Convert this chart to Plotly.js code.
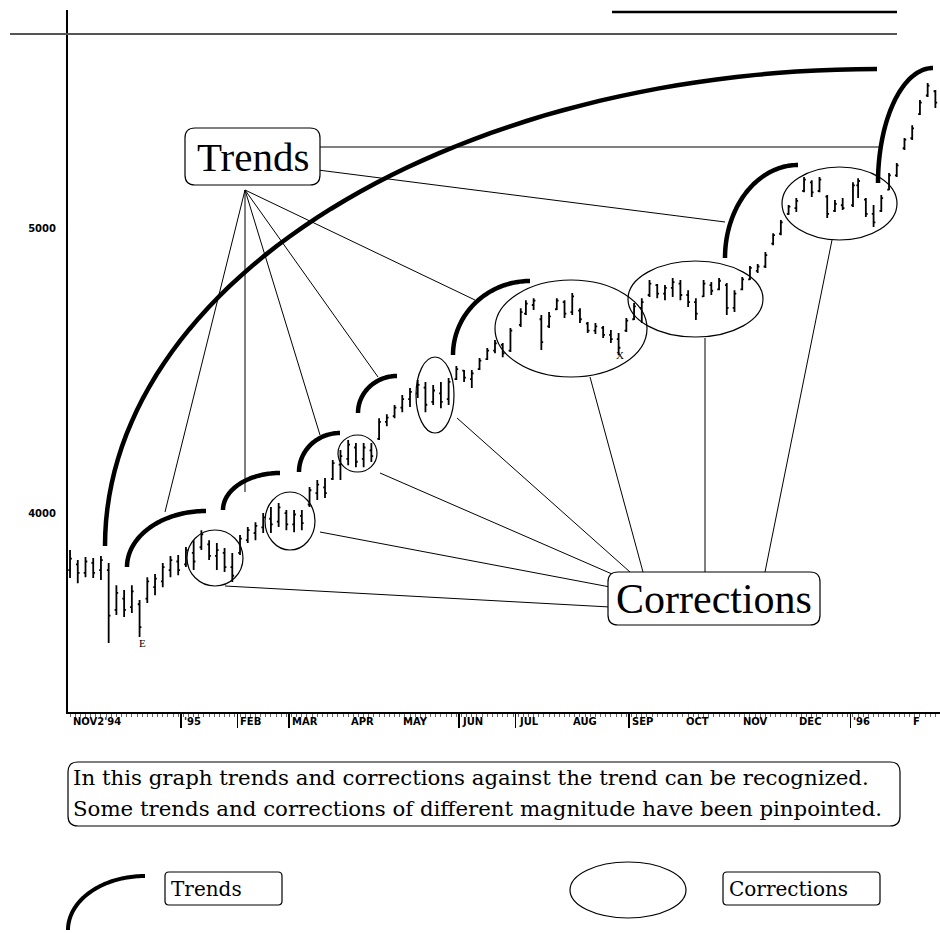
<!DOCTYPE html>
<html><head><meta charset="utf-8">
<script src="https://cdn.plot.ly/plotly-3.0.1.min.js"></script>
<style>html,body{margin:0;padding:0;background:#fff;}#chart{width:940px;height:933px;}</style>
</head><body><div id="chart"></div>
<script>
// ---- data (Dow-like index, bars every 3 trading days) ----
const dates = [
'1994-11-02','1994-11-07','1994-11-10','1994-11-15','1994-11-18','1994-11-23','1994-11-28','1994-12-01','1994-12-06','1994-12-09',
'1994-12-14','1994-12-19','1994-12-22','1994-12-27','1994-12-30','1995-01-04','1995-01-09','1995-01-12','1995-01-17','1995-01-20',
'1995-01-25','1995-01-30','1995-02-02','1995-02-07','1995-02-10','1995-02-15','1995-02-20','1995-02-23','1995-02-28','1995-03-03',
'1995-03-08','1995-03-13','1995-03-16','1995-03-21','1995-03-24','1995-03-29','1995-04-03','1995-04-06','1995-04-11','1995-04-14',
'1995-04-19','1995-04-24','1995-04-27','1995-05-02','1995-05-05','1995-05-10','1995-05-15','1995-05-18','1995-05-23','1995-05-26',
'1995-05-31','1995-06-05','1995-06-08','1995-06-13','1995-06-16','1995-06-21','1995-06-26','1995-06-29','1995-07-05','1995-07-07',
'1995-07-12','1995-07-17','1995-07-20','1995-07-25','1995-07-28','1995-08-02','1995-08-07','1995-08-10','1995-08-15','1995-08-18',
'1995-08-23','1995-08-28','1995-08-31','1995-09-05','1995-09-08','1995-09-13','1995-09-18','1995-09-21','1995-09-26','1995-09-29',
'1995-10-04','1995-10-09','1995-10-12','1995-10-17','1995-10-20','1995-10-25','1995-10-30','1995-11-02','1995-11-07','1995-11-10',
'1995-11-15','1995-11-20','1995-11-23','1995-11-28','1995-12-01','1995-12-06','1995-12-11','1995-12-14','1995-12-19','1995-12-22',
'1995-12-27','1996-01-02','1996-01-04','1996-01-09','1996-01-12','1996-01-17','1996-01-22','1996-01-25','1996-01-30','1996-02-02',
'1996-02-07','1996-02-12','1996-02-15'];
const highV = [
3870,3835,3846,3842,3849,3825,3747,3730,3747,3695,
3775,3786,3825,3849,3853,3881,3905,3940,3905,3895,
3877,3860,3923,3951,3968,4000,4021,4035,4011,4011,
4011,4091,4116,4123,4186,4221,4256,4246,4246,4246,
4333,4347,4379,4414,4439,4467,4460,4449,4460,4474,
4516,4502,4502,4544,4579,4607,4597,4649,4719,4747,
4754,4695,4705,4754,4747,4772,4719,4670,4667,4656,
4642,4632,4684,4737,4754,4818,4804,4800,4825,4818,
4782,4754,4818,4811,4825,4807,4782,4828,4867,4874,
4916,4982,5028,5081,5105,5179,5168,5179,5116,5098,
5105,5161,5175,5105,5081,5116,5193,5228,5316,5361,
5449,5509,5484];
const lowV = [
3772,3754,3775,3772,3765,3544,3642,3635,3649,3565,
3684,3712,3740,3775,3782,3811,3800,3870,3835,3800,
3793,3758,3853,3895,3905,3930,3930,3951,3940,3933,
3940,4021,4046,4053,4116,4116,4168,4161,4161,4179,
4256,4305,4333,4354,4372,4404,4354,4379,4368,4379,
4467,4460,4439,4502,4537,4561,4547,4565,4653,4695,
4712,4572,4649,4712,4684,4695,4667,4632,4628,4614,
4597,4554,4635,4677,4667,4758,4754,4747,4758,4747,
4723,4677,4758,4765,4782,4695,4705,4782,4818,4842,
4860,4940,4975,5046,5056,5126,5109,5126,5035,5056,
5063,5074,5105,5039,5004,5056,5133,5179,5274,5309,
5397,5460,5421];
const openV = [
3800,3820,3790,3825,3800,3800,3660,3700,3670,3680,
3700,3740,3760,3800,3830,3820,3860,3880,3890,3850,
3860,3810,3860,3905,3930,3950,3980,3970,4000,3960,
3990,4030,4070,4090,4120,4170,4190,4230,4190,4220,
4260,4320,4340,4370,4400,4420,4440,4390,4420,4400,
4470,4500,4470,4505,4540,4570,4590,4570,4660,4700,
4730,4680,4655,4715,4740,4705,4710,4665,4640,4650,
4625,4610,4640,4680,4720,4765,4800,4770,4790,4805,
4765,4740,4760,4800,4785,4800,4720,4785,4820,4850,
4865,4945,4980,5050,5070,5130,5160,5130,5110,5060,
5080,5080,5150,5100,5050,5060,5135,5185,5280,5315,
5400,5465,5480];
const closeV = [
3840,3790,3830,3790,3835,3640,3720,3660,3725,3600,
3760,3770,3810,3835,3800,3870,3830,3925,3850,3870,
3810,3780,3910,3940,3955,3985,3960,4020,3960,3995,
3965,4080,4100,4070,4175,4200,4240,4180,4230,4200,
4320,4335,4370,4400,4425,4450,4380,4430,4390,4460,
4505,4475,4490,4535,4570,4595,4560,4640,4705,4735,
4745,4600,4690,4745,4700,4760,4680,4640,4655,4625,
4610,4580,4675,4725,4740,4805,4770,4790,4810,4765,
4740,4700,4805,4780,4815,4720,4770,4820,4860,4865,
4905,4975,5020,5075,5095,5170,5125,5170,5050,5085,
5070,5150,5165,5050,5020,5105,5185,5220,5310,5350,
5440,5500,5440];
const yTickVals = [4000, 5000];
const yTickText = ['4000', '5000'];
const monthTickDates = ['1994-11-02','1995-01-02','1995-02-01','1995-03-01','1995-04-03','1995-05-01','1995-06-01',
  '1995-07-03','1995-08-01','1995-09-01','1995-10-02','1995-11-01','1995-12-01','1996-01-01','1996-02-01'];
const monthTickText = ["NOV2'94","'95",'FEB','MAR','APR','MAY','JUN','JUL','AUG','SEP','OCT','NOV','DEC',"'96",'F'];
const noteLines = ['In this graph trends and corrections against the trend can be recognized.',
  'Some trends and corrections of different magnitude have been pinpointed.'];

// ---- layout helpers (pixel -> paper) ----
const W = 940, H = 933, ML = 68, MR = 0, MT = 10, MB = 221;
const PX = x => (x - ML) / (W - ML - MR);
const PY = y => (H - MB - y) / (H - MB - MT);
const pt = (x, y) => PX(x).toFixed(5) + ',' + PY(y).toFixed(5);
function arc(cx, cy, rx, ry) {
  const p = [];
  for (let k = 0; k <= 60; k++) {
    const a = Math.PI * (1 + 0.5 * k / 60);
    p.push(pt(cx + rx * Math.cos(a), cy + ry * Math.sin(a)));
  }
  return 'M' + p.join(' L');
}
function rrect(x0, y0, x1, y1, r) {
  return 'M' + pt(x0 + r, y0) + ' L' + pt(x1 - r, y0) + ' Q' + pt(x1, y0) + ' ' + pt(x1, y0 + r) +
    ' L' + pt(x1, y1 - r) + ' Q' + pt(x1, y1) + ' ' + pt(x1 - r, y1) +
    ' L' + pt(x0 + r, y1) + ' Q' + pt(x0, y1) + ' ' + pt(x0, y1 - r) +
    ' L' + pt(x0, y0 + r) + ' Q' + pt(x0, y0) + ' ' + pt(x0 + r, y0) + ' Z';
}
const P = {xref: 'paper', yref: 'paper'};
const shapes = [];
const line = (x0, y0, x1, y1, w, c) => shapes.push(Object.assign({type: 'line', x0: PX(x0), y0: PY(y0), x1: PX(x1), y1: PY(y1), line: {color: c || '#000', width: w || 1}}, P));
const ell = (x0, y0, x1, y1) => shapes.push(Object.assign({type: 'circle', x0: PX(x0), y0: PY(y1), x1: PX(x1), y1: PY(y0), line: {color: '#000', width: 1.2}}, P));
const path = (d, w, fill) => shapes.push(Object.assign({type: 'path', path: d, line: {color: '#000', width: w}, fillcolor: fill || 'rgba(0,0,0,0)'}, P));

// frame lines at the top
line(10, 34, 897, 34, 2, '#555');
line(612, 12, 897, 12, 2.5, '#000');
// trend connectors
[[165,512],[245,492],[320,435],[378,377],[475,300]].forEach(e => line(245, 190, e[0], e[1], 1));
line(318, 170, 725, 222, 1);
line(320, 147, 880, 147, 1);
// correction connectors
[[225,586,610,607],[320,532,610,587],[380,473,612,574],[457,418,630,572],[590,377,643,572],[705,338,705,572],[832,240,765,572]]
  .forEach(s => line(s[0], s[1], s[2], s[3], 1));
// trend arcs
path(arc(877, 546, 772, 477), 4.5);
[[206,567,79,56],[280,510,57,37],[340,472,41,39],[397,413,39,37],[530,355,77,74],[798,258,73,93],[933,183,55,115]]
  .forEach(a => path(arc(a[0], a[1], a[2], a[3]), 4.5));
// correction ellipses
[[187,530,243,586],[265,492,315,550],[338,435,377,472],[416,357,454,433],[495,280,647,377],[628,261,763,337],[782,167,897,240]]
  .forEach(e => ell(e[0], e[1], e[2], e[3]));
// boxes
path(rrect(185, 128, 320, 185, 10), 1.2, '#fff');
path(rrect(608, 572, 820, 625, 10), 1.2, '#fff');
path(rrect(68, 762, 900, 826, 10), 1.2, '#fff');
path(rrect(165, 872, 282, 905, 4), 1.2, '#fff');
path(rrect(723, 872, 880, 905, 4), 1.2, '#fff');
// legend marks
path(arc(145, 930, 77, 54), 4);
ell(570, 862, 686, 918);

const serif = 'Liberation Serif, Times New Roman, serif';
const wide = 'DejaVu Serif, serif';
const ann = (x, y, text, size, anchor, fam) => Object.assign({x: PX(x), y: PY(y), text: text, showarrow: false,
  xanchor: anchor || 'left', yanchor: 'middle', font: {family: fam || serif, size: size, color: '#000'}}, P);
const annotations = [
  ann(252.5, 157, 'Trends', 41, 'center'),
  ann(714, 599, 'Corrections', 42, 'center'),
  ann(71, 777, noteLines[0], 21.3, 'left', wide),
  ann(71, 808, noteLines[1], 21.3, 'left', wide),
  ann(169, 889, 'Trends', 20, 'left', wide),
  ann(727, 889, 'Corrections', 20, 'left', wide),
  ann(142, 643, 'E', 11, 'center'),
  ann(620, 355, 'X', 11, 'center')
];
monthTickDates.forEach((d, i) => annotations.push({x: d, xref: 'x', y: PY(721), yref: 'paper', text: monthTickText[i],
  showarrow: false, xanchor: 'left', yanchor: 'middle', xshift: 1,
  font: {family: 'DejaVu Sans', size: 10, color: '#000', weight: 'bold'}}));

const trace = {
  type: 'ohlc', x: dates, open: openV, high: highV, low: lowV, close: closeV,
  increasing: {line: {color: '#000', width: 1.8}}, decreasing: {line: {color: '#000', width: 1.8}},
  tickwidth: 0.35, hoverinfo: 'skip', showlegend: false
};
const layout = {
  width: W, height: H, autosize: false,
  margin: {l: ML, r: MR, t: MT, b: MB, pad: 0},
  paper_bgcolor: '#fff', plot_bgcolor: '#fff', showlegend: false,
  xaxis: {
    type: 'date', range: ['1994-11-01 05:00', '1996-02-16 19:00'],
    rangebreaks: [{bounds: ['sat', 'mon']}], rangeslider: {visible: false},
    showgrid: false, zeroline: false, showline: true, linecolor: '#000', linewidth: 2,
    tickmode: 'array', tickvals: monthTickDates, ticktext: monthTickDates.map(() => ''),
    ticks: 'outside', ticklen: 14, tickwidth: 1.5, tickcolor: '#000', showticklabels: false,
    minor: {ticks: 'outside', ticklen: 3, tickwidth: 1, tickcolor: '#666', dtick: 2 * 86400000, showgrid: false}
  },
  yaxis: {
    range: [3302, 5765], tickmode: 'array', tickvals: yTickVals, ticktext: yTickText,
    ticks: '', showgrid: false, zeroline: false, showline: true, linecolor: '#000', linewidth: 2,
    ticklabelstandoff: 8, tickfont: {family: 'DejaVu Sans', size: 10, color: '#000', weight: 'bold'}
  },
  shapes: shapes, annotations: annotations
};
Plotly.newPlot('chart', [trace], layout, {staticPlot: true, displayModeBar: false});
</script>
</body></html>
